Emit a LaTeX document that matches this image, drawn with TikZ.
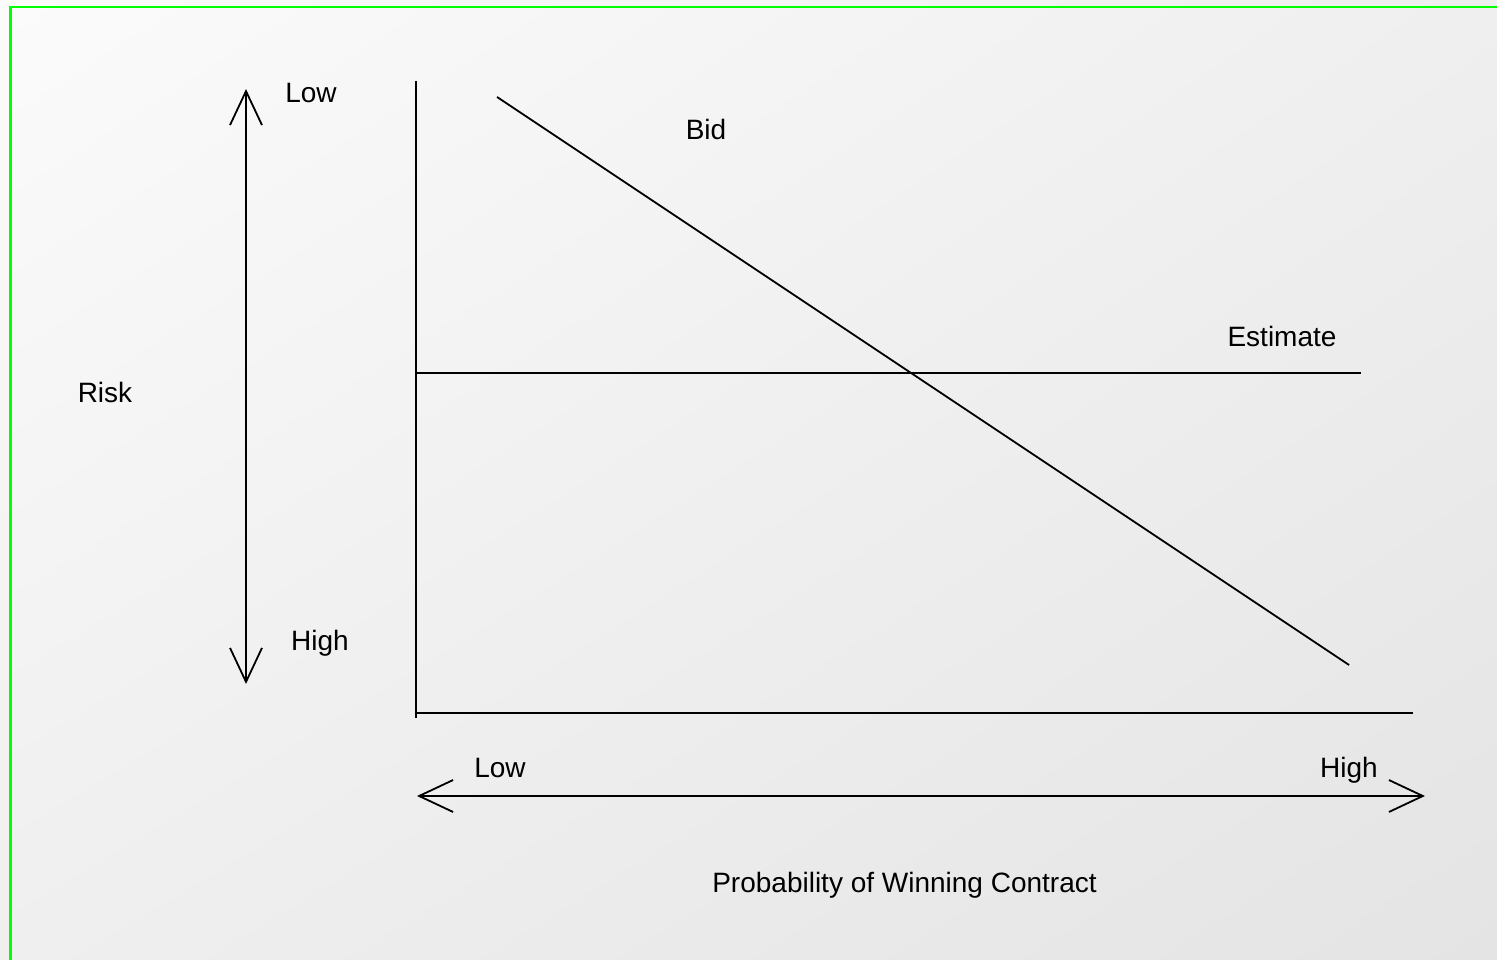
\documentclass[tikz,border=0pt]{standalone}
\usepackage{fontspec}
\setmainfont{Liberation Sans}
\usetikzlibrary{arrows.meta,shadings}
\definecolor{bgUL}{RGB}{251,251,251}
\definecolor{bgMid}{RGB}{239,239,239}
\definecolor{bgLR}{RGB}{228,228,228}
\definecolor{frameGreen}{RGB}{0,255,0}
\begin{document}
\begin{tikzpicture}[x=1pt,y=-1pt,
  lbl/.style={anchor=base,inner sep=0pt,font=\fontsize{28}{34}\selectfont},
  ln/.style={line width=1.8pt,black},
  vee/.style={line width=1.8pt,black,{Straight Barb[length=34pt,width=32pt,line width=1.8pt]}-{Straight Barb[length=34pt,width=32pt,line width=1.8pt]}}]
  % page and background
  \useasboundingbox (0,0) rectangle (1497,960);
  \shade[upper left=bgUL, upper right=bgMid, lower left=bgMid, lower right=bgLR]
    (0,0) rectangle (1497,960);
  \draw[line width=2.2pt,frameGreen]
    (10.5,962) -- (10.5,7) -- (1499,7);

  % key points
  \coordinate (risktop) at (246,89);
  \coordinate (riskbot) at (246,684);
  \coordinate (yaxtop) at (416,81);
  \coordinate (origin) at (416,713);
  \coordinate (yaxbot) at (416,718);
  \coordinate (xaxend) at (1413,713);
  \coordinate (bidA) at (497,97);
  \coordinate (bidB) at (1349,665);
  \coordinate (estA) at (416,373);
  \coordinate (estB) at (1361,373);
  \coordinate (probL) at (417,796);
  \coordinate (probR) at (1425,796);

  % risk arrow and axes
  \draw[vee] (risktop) -- (riskbot);
  \draw[ln] (yaxtop) -- (yaxbot);
  \draw[ln] (origin) -- (xaxend);
  \draw[ln] (bidA) -- (bidB);
  \draw[ln] (estA) -- (estB);
  \draw[vee] (probL) -- (probR);

  % labels
  \node[lbl] (riskLow) at (311,103) {Low};
  \node[lbl] (riskHigh) at (320,650) {High};
  \node[lbl] (risk) at (105,402) {Risk};
  \node[lbl] (bid) at (706,140) {Bid};
  \node[lbl] (est) at (1282,346) {Estimate};
  \node[lbl] (probLow) at (500,777) {Low};
  \node[lbl] (probHigh) at (1349,777) {High};
  \node[lbl] (prob) at (904.5,892) {Probability of Winning Contract};
\end{tikzpicture}
\end{document}
